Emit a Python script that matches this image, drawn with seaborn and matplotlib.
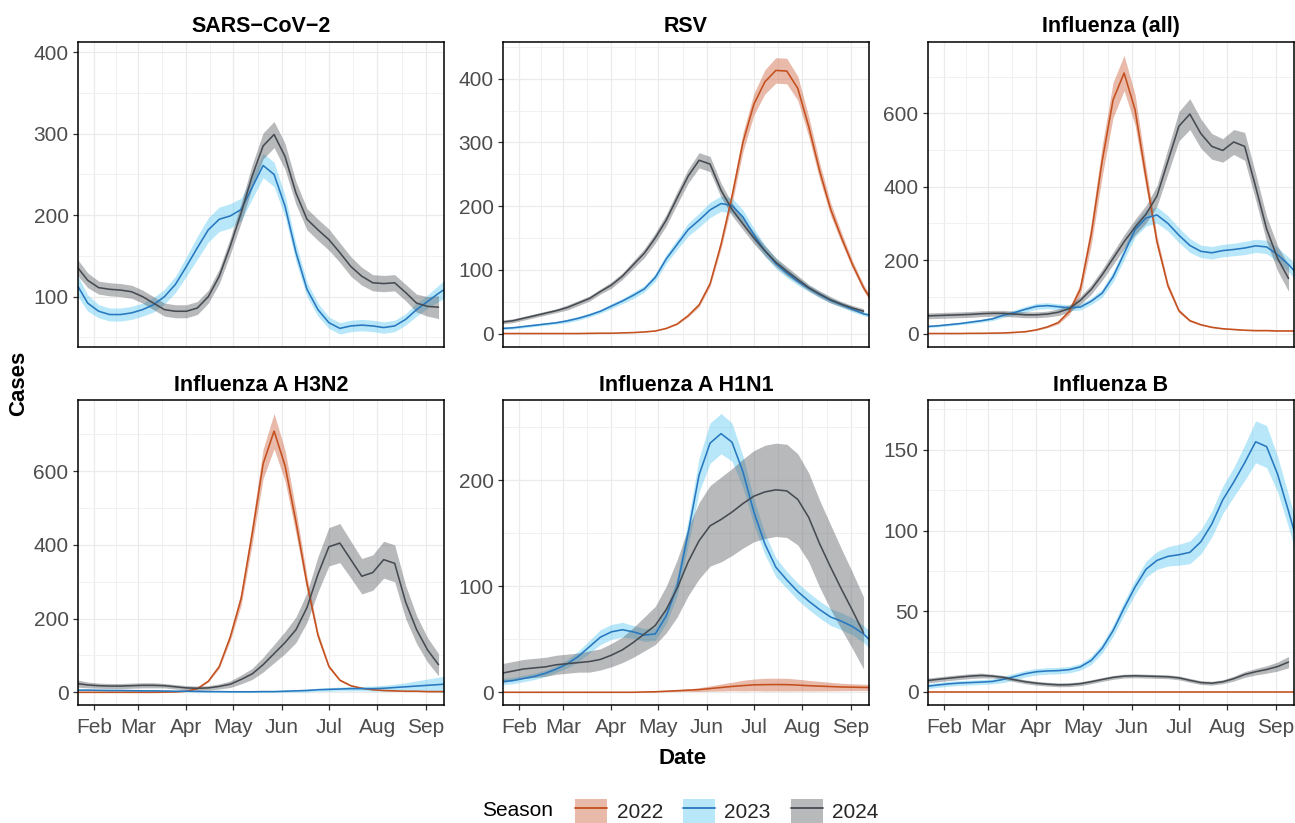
import matplotlib
matplotlib.use("Agg")
import matplotlib.pyplot as plt
import matplotlib.dates as mdates
from matplotlib.ticker import FixedLocator
from matplotlib.patches import Patch
from matplotlib.lines import Line2D
import pandas as pd
import seaborn as sns

# ---------------------------------------------------------------------------
# Weekly smoothed case counts (mean and half-width of the uncertainty band)
# Seasons are aligned on a common calendar year; weeks start on 21 January.
# ---------------------------------------------------------------------------
week_start = "2023-01-21"
n_weeks = 35

pathogens = ["SARS\u2212CoV\u22122", "RSV", "Influenza (all)",
             "Influenza A H3N2", "Influenza A H1N1", "Influenza B"]
seasons = ["2022", "2023", "2024"]

sars_2023 = [115, 92, 82, 78, 78, 80, 84, 90, 100, 115, 137, 160, 182, 195, 199, 207, 234, 261,
             250, 211, 154, 109, 84, 68, 61, 64, 65, 64, 62, 64, 72, 84, 94, 104, 113]
sars_2023_hw = [13, 10, 8, 8, 8, 8, 8, 9, 9, 10, 12, 14, 15, 15, 15, 14, 14, 15, 15, 13, 11, 9,
                8, 7, 7, 7, 7, 7, 7, 7, 7, 8, 8, 10, 12]
sars_2024 = [137, 120, 111, 109, 108, 106, 100, 92, 84, 82, 82, 86, 100, 125, 162, 203, 248, 285,
             299, 272, 227, 195, 182, 170, 154, 137, 125, 117, 116, 117, 105, 92, 88, 87]
sars_2024_hw = [10, 9, 8, 8, 8, 8, 8, 8, 8, 8, 8, 8, 8, 9, 10, 12, 14, 16, 16, 16, 14, 13, 13, 13,
                12, 12, 11, 10, 10, 10, 10, 11, 12, 14]

rsv_2022 = [0, 0, 0, 0, 0, 0, 0, 0, 0.3, 0.5, 0.5, 1, 1.5, 2.5, 4, 8, 15, 28, 45, 78, 140, 215,
            300, 360, 395, 413, 412, 385, 325, 255, 195, 150, 108, 72, 45]
rsv_2022_hw = [0, 0, 0, 0, 0, 0, 0, 0, 0, 0, 0, 0, 0, 0.2, 0.3, 0.5, 1, 2, 3, 4, 7, 11, 15, 17,
               19, 20, 20, 19, 16, 13, 10, 8, 6, 5, 4]
rsv_2023 = [8, 9, 11, 13, 15, 17, 20, 24, 29, 35, 43, 51, 60, 70, 88, 117, 140, 163, 178, 194,
            204, 201, 183, 155, 130, 110, 95, 82, 71, 61, 52, 45, 38, 31, 27]
rsv_2023_hw = [2, 2, 2, 2, 2, 2, 3, 3, 3, 3, 4, 4, 5, 5, 6, 7, 8, 10, 11, 12, 12, 12, 11, 10, 9,
               8, 7, 6, 5, 5, 4, 4, 4, 3, 3]
rsv_2024 = [18, 20, 24, 28, 32, 36, 41, 48, 55, 66, 76, 90, 108, 126, 150, 178, 213, 247, 272,
            266, 225, 195, 172, 150, 130, 112, 98, 85, 72, 62, 53, 46, 40, 35]
rsv_2024_hw = [3, 3, 3, 3, 3, 3, 4, 4, 4, 4, 5, 5, 6, 7, 8, 9, 10, 11, 12, 12, 11, 10, 9, 9, 8,
               7, 7, 6, 5, 5, 5, 4, 4, 4]

flu_2022 = [0, 0, 0, 0, 0.5, 0.5, 1, 1.5, 3, 5, 10, 18, 30, 60, 120, 270, 470, 637, 710, 610,
            425, 250, 130, 62, 35, 24, 17, 13, 11, 9, 8, 8, 7, 7, 7]
flu_2022_hw = [0, 0, 0, 0, 0.3, 0.3, 0.5, 0.5, 0.8, 1, 1.5, 2.5, 4, 8, 16, 30, 42, 48, 48, 42,
               28, 16, 9, 5, 3, 2, 1.5, 1, 1, 1, 1, 1, 1, 1, 1]
flu_2023 = [19, 21, 24, 27, 31, 35, 40, 50, 57, 66, 74, 76, 73, 70, 72, 88, 110, 155, 218, 283,
            315, 323, 300, 268, 240, 224, 220, 226, 229, 233, 239, 236, 215, 188, 155]
flu_2023_hw = [3, 3, 3, 3, 4, 4, 5, 6, 7, 8, 8, 8, 8, 8, 8, 9, 11, 14, 17, 20, 22, 22, 21, 20,
               19, 17, 17, 17, 17, 18, 18, 18, 19, 20, 22]
flu_2024 = [48, 49, 50, 51, 52, 54, 55, 55, 53, 51, 51, 53, 58, 68, 90, 120, 160, 205, 250, 290,
            325, 375, 470, 565, 598, 545, 510, 499, 522, 510, 400, 285, 205, 150]
flu_2024_hw = [8, 8, 8, 8, 8, 8, 8, 8, 8, 8, 8, 8, 9, 10, 11, 13, 15, 17, 19, 21, 24, 28, 34, 40,
               42, 40, 35, 32, 34, 38, 36, 34, 34, 35]

h3n2_2022 = [0, 0, 0, 0, 0, 0, 0, 0, 0.5, 1, 3, 10, 30, 70, 150, 255, 430, 620, 709, 615, 462,
             295, 155, 70, 33, 18, 11, 7, 5, 4, 3, 3, 2, 2, 2]
h3n2_2022_hw = [0, 0, 0, 0, 0, 0, 0, 0, 0, 0, 0.5, 1, 2, 5, 10, 18, 28, 40, 48, 42, 32, 20, 10,
                5, 3, 2, 1.5, 1, 1, 1, 1, 1, 1, 1, 1]
h3n2_2023 = [6, 6, 5.5, 5, 5, 4.5, 4, 4, 3.5, 3, 3, 2.5, 2, 2, 1.5, 1.5, 1.5, 2, 2, 3, 4, 5, 7,
             8, 9, 10, 10, 10, 11, 13, 15, 17, 19, 21, 23]
h3n2_2023_hw = [2, 2, 2, 2, 2, 2, 2, 2, 2, 2, 2, 2, 2, 2, 2, 2, 2, 2, 2, 3, 3, 4, 4, 5, 5, 6, 6,
                7, 8, 9, 11, 14, 17, 20, 24]
h3n2_2024 = [24, 20, 18, 17, 17, 18, 19, 19, 18, 15, 12, 11, 12, 16, 22, 35, 50, 75, 105, 135,
             170, 230, 320, 395, 405, 360, 315, 325, 360, 350, 245, 170, 115, 75]
h3n2_2024_hw = [10, 8, 7, 7, 7, 7, 7, 7, 6, 6, 6, 6, 6, 7, 9, 12, 15, 20, 25, 30, 35, 40, 48, 52,
                53, 50, 48, 48, 50, 50, 45, 38, 33, 30]

h1n1_2022 = [0, 0, 0, 0, 0, 0, 0, 0, 0, 0, 0, 0, 0, 0.3, 0.5, 1, 1.5, 2, 2.5, 3.5, 4.5, 5.5, 6.3,
             7, 7.2, 7.3, 7.2, 6.8, 6.2, 5.8, 5.4, 5, 4.8, 4.6, 4.5]
h1n1_2022_hw = [0, 0, 0, 0, 0, 0, 0, 0, 0, 0, 0, 0, 0, 0.2, 0.3, 0.5, 0.8, 1.2, 1.8, 2.5, 3.3, 4,
                5, 5.5, 6, 6, 6, 5.5, 5, 4.5, 4, 3.5, 3.2, 3, 3]
h1n1_2023 = [10, 11, 13, 15, 18, 22, 27, 34, 43, 52, 57, 59, 57, 54, 55, 72, 100, 150, 205, 235,
             244, 236, 208, 170, 140, 118, 106, 95, 86, 78, 71, 67, 62, 55, 45]
h1n1_2023_hw = [3, 3, 3, 3, 3, 3, 4, 5, 6, 7, 7, 7, 6, 6, 6, 7, 9, 12, 16, 19, 19, 18, 15, 12,
                10, 9, 8, 8, 8, 8, 8, 8, 8, 8, 8]
h1n1_2024 = [18, 20, 22, 23, 24, 26, 27, 28, 29, 31, 35, 40, 47, 55, 63, 78, 98, 123, 143, 157,
             163, 170, 178, 185, 189, 191, 190, 182, 165, 140, 118, 97, 77, 56]
h1n1_2024_hw = [9, 9, 9, 9, 9, 9, 9, 9, 10, 10, 11, 12, 14, 16, 18, 22, 27, 32, 36, 38, 40, 41,
                42, 43, 44, 44, 44, 43, 42, 41, 40, 38, 36, 34]

fluB_2022 = [0, 0, 0, 0, 0, 0, 0, 0, 0, 0, 0, 0, 0, 0, 0, 0, 0, 0, 0, 0, 0, 0, 0, 0, 0, 0, 0, 0,
             0, 0, 0, 0, 0, 0, 0]
fluB_2022_hw = [0, 0, 0, 0, 0, 0, 0, 0, 0, 0, 0, 0, 0, 0, 0, 0, 0, 0, 0, 0, 0, 0, 0, 0, 0, 0, 0,
                0, 0, 0, 0, 0, 0, 0, 0]
fluB_2023 = [3.5, 4.3, 5, 5.5, 5.8, 6.1, 6.5, 7.8, 9.5, 11.3, 12.5, 13, 13.2, 13.8, 15.5, 19.5,
             27, 38, 52, 65, 76, 81.5, 84, 85, 86.5, 93, 104, 119, 130, 142, 155, 152, 135, 112, 88]
fluB_2023_hw = [1.5, 1.5, 1.5, 1.5, 1.5, 1.5, 1.5, 2, 2, 2, 2, 2, 2, 2, 2, 2.5, 3, 3.5, 4, 4.5,
                5, 5.5, 6, 6.5, 7, 7.5, 8, 8.5, 9, 11, 13, 13, 11, 10, 10]
fluB_2024 = [7, 7.8, 8.5, 9.2, 9.8, 10.2, 9.8, 9, 7.5, 6.3, 5.4, 4.8, 4.4, 4.5, 5.1, 6.3, 7.7, 9,
             9.8, 10, 9.8, 9.6, 9.4, 8.7, 7.2, 5.8, 5.4, 6.3, 8.2, 10.8, 12.5, 13.9, 15.7, 18.5]
fluB_2024_hw = [1.5, 1.5, 1.5, 1.5, 1.5, 1.5, 1.2, 1.2, 1.2, 1.2, 1.2, 1.2, 1.2, 1.2, 1.2, 1.2,
                1.2, 1.2, 1.2, 1.2, 1.2, 1.2, 1.2, 1.2, 1.2, 1.2, 1.2, 1.2, 1.5, 1.8, 2, 2.3, 2.8,
                3.5]

# y-axis breaks of each facet
y_major = {
    pathogens[0]: [100, 200, 300, 400],
    pathogens[1]: [0, 100, 200, 300, 400],
    pathogens[2]: [0, 200, 400, 600],
    pathogens[3]: [0, 200, 400, 600],
    pathogens[4]: [0, 100, 200],
    pathogens[5]: [0, 50, 100, 150],
}
y_minor = {
    pathogens[0]: [50, 150, 250, 350],
    pathogens[1]: [50, 150, 250, 350, 450],
    pathogens[2]: [100, 300, 500, 700],
    pathogens[3]: [100, 300, 500, 700],
    pathogens[4]: [50, 150, 250],
    pathogens[5]: [25, 75, 125, 175],
}
y_limits = {
    pathogens[0]: (38.7, 412.6),
    pathogens[1]: (-20.4, 457.6),
    pathogens[2]: (-35.5, 794.5),
    pathogens[3]: (-34.4, 792.0),
    pathogens[4]: (-12.0, 275.3),
    pathogens[5]: (-8.1, 180.6),
}

series = {
    (pathogens[0], "2023"): (sars_2023, sars_2023_hw),
    (pathogens[0], "2024"): (sars_2024, sars_2024_hw),
    (pathogens[1], "2022"): (rsv_2022, rsv_2022_hw),
    (pathogens[1], "2023"): (rsv_2023, rsv_2023_hw),
    (pathogens[1], "2024"): (rsv_2024, rsv_2024_hw),
    (pathogens[2], "2022"): (flu_2022, flu_2022_hw),
    (pathogens[2], "2023"): (flu_2023, flu_2023_hw),
    (pathogens[2], "2024"): (flu_2024, flu_2024_hw),
    (pathogens[3], "2022"): (h3n2_2022, h3n2_2022_hw),
    (pathogens[3], "2023"): (h3n2_2023, h3n2_2023_hw),
    (pathogens[3], "2024"): (h3n2_2024, h3n2_2024_hw),
    (pathogens[4], "2022"): (h1n1_2022, h1n1_2022_hw),
    (pathogens[4], "2023"): (h1n1_2023, h1n1_2023_hw),
    (pathogens[4], "2024"): (h1n1_2024, h1n1_2024_hw),
    (pathogens[5], "2022"): (fluB_2022, fluB_2022_hw),
    (pathogens[5], "2023"): (fluB_2023, fluB_2023_hw),
    (pathogens[5], "2024"): (fluB_2024, fluB_2024_hw),
}

# Long-format table
dates = pd.date_range(week_start, periods=n_weeks, freq="7D")
rows = []
for (pathogen, season), (mean, hw) in series.items():
    for d, m, h in zip(dates, mean, hw):
        rows.append({"pathogen": pathogen, "season": season, "date": d,
                     "cases": m, "lo": m - h, "hi": m + h})
df = pd.DataFrame(rows)

# ---------------------------------------------------------------------------
# Styling
# ---------------------------------------------------------------------------
sns.set_theme(style="white")
plt.rcParams["font.family"] = ["Liberation Sans", "DejaVu Sans"]

line_colors = {"2022": "#C4501E", "2023": "#2878C0", "2024": "#464B52"}
fill_colors = {"2022": "#C8522A", "2023": "#4CC4F0", "2024": "#4E5157"}

W, H = 1295, 823
fig, axes = plt.subplots(2, 3, figsize=(W / 100, H / 100), dpi=100, sharex=True)
fig.subplots_adjust(left=78 / W, right=1294 / W, top=1 - 42 / H, bottom=1 - 705 / H,
                    wspace=59 / 366, hspace=54 / 305)

month_starts = pd.date_range("2023-01-01", "2023-10-01", freq="MS")
mid_month = [month_starts[i] + (month_starts[i + 1] - month_starts[i]) / 2
             for i in range(len(month_starts) - 1)]
mid_month_num = [mdates.date2num(m) for m in mid_month]

for idx, (ax, name) in enumerate(zip(axes.flat, pathogens)):
    sub = df[df["pathogen"] == name]
    present = [s for s in seasons if s in set(sub["season"])]
    for s in present:
        d = sub[sub["season"] == s]
        ax.fill_between(d["date"], d["lo"], d["hi"], color=fill_colors[s],
                        alpha=0.4, linewidth=0, zorder=1)
    sns.lineplot(data=sub, x="date", y="cases", hue="season", hue_order=present,
                 palette=line_colors, estimator=None, legend=False, ax=ax,
                 linewidth=1.15, solid_joinstyle="round", zorder=2)

    ax.set_xlim(pd.Timestamp("2023-01-21 19:00"), pd.Timestamp("2023-09-12 12:00"))
    ax.set_ylim(*y_limits[name])
    ax.yaxis.set_major_locator(FixedLocator(y_major[name]))
    ax.yaxis.set_minor_locator(FixedLocator(y_minor[name]))
    ax.xaxis.set_major_locator(mdates.MonthLocator(bymonth=range(2, 10)))
    ax.xaxis.set_major_formatter(mdates.DateFormatter("%b"))
    ax.xaxis.set_minor_locator(FixedLocator(mid_month_num))

    ax.set_axisbelow(True)
    ax.grid(which="major", color="#EBEBEB", linewidth=0.9)
    ax.grid(which="minor", color="#EFEFEF", linewidth=0.6)
    ax.set_facecolor("white")
    for sp in ax.spines.values():
        sp.set_color("black")
        sp.set_linewidth(1.1)

    ax.tick_params(which="major", length=3.8, width=0.9, color="#333333",
                   labelcolor="#4D4D4D", labelsize=15)
    ax.tick_params(axis="y", which="major", pad=3)
    ax.tick_params(axis="x", which="major", pad=5.5)
    ax.tick_params(which="minor", length=0)
    ax.tick_params(axis="y", left=True)
    if idx < 3:
        ax.tick_params(axis="x", which="both", length=0, labelbottom=False)
    else:
        ax.tick_params(axis="x", bottom=True, labelbottom=True)

    ax.set_xlabel("")
    ax.set_ylabel("")
    ax.set_title(name, fontsize=15.5, fontweight="bold", color="black", pad=7)

fig.text(19 / W, 1 - 383 / H, "Cases", rotation=90, ha="center", va="center",
         fontsize=16, fontweight="bold", color="black")
fig.text(683 / W, 1 - 759 / H, "Date", ha="center", va="center",
         fontsize=16, fontweight="bold", color="black")

# Legend: ribbon fill with the line drawn over it
handles = [(Patch(facecolor=fill_colors[s], alpha=0.4, edgecolor="none"),
            Line2D([], [], color=line_colors[s], linewidth=1.3)) for s in seasons]
fig.text(482 / W, 1 - 811 / H, "Season", ha="left", va="center", fontsize=15, color="black")
fig.legend(handles, seasons, ncol=3, loc="center left", bbox_to_anchor=(575 / W, 1 - 811 / H),
           frameon=False, fontsize=15, handlelength=1.55, handleheight=1.45,
           handletextpad=0.45, columnspacing=0.95, borderpad=0, borderaxespad=0)

fig.savefig("out.png", dpi=100, facecolor="white")
